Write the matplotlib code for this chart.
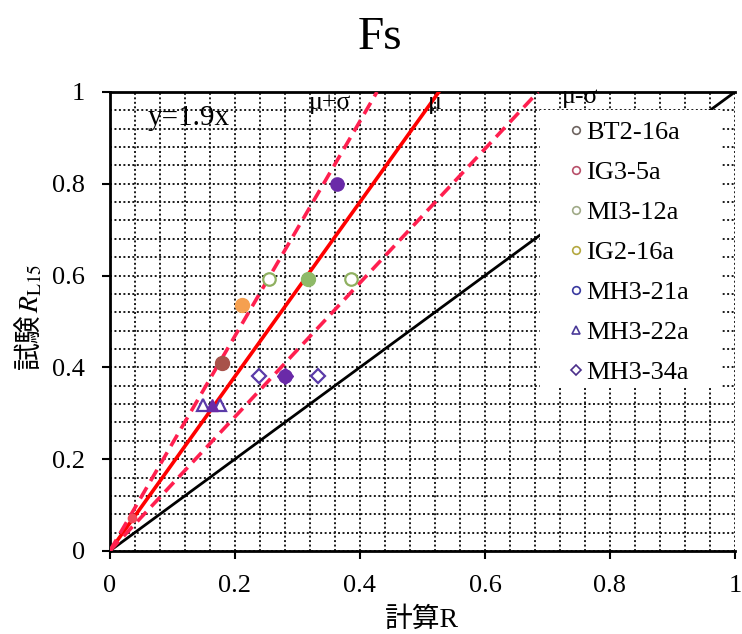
import matplotlib
matplotlib.use("Agg")
import matplotlib.pyplot as plt
from matplotlib.lines import Line2D
from matplotlib.patches import Rectangle
from matplotlib.ticker import MultipleLocator, FuncFormatter

plt.rcParams['font.family'] = ['Liberation Serif', 'Noto Sans CJK JP']
plt.rcParams['mathtext.fontset'] = 'stix'

# test results: calculated R vs. test R_L15
names = ["BT2-16a", "IG3-5a", "MI3-12a", "IG2-16a", "MH3-21a", "MH3-22a", "MH3-34a"]
legend_colors = ["#6e6460", "#b8506a", "#a0aa88", "#b4a840", "#3a3aa0", "#4a3a98", "#4a2e8a"]
legend_markers = ["o", "o", "o", "o", "o", "^", "D"]

# filled markers (mean values)
bt2_x, bt2_y = [0.180], [0.409]
ig3_x, ig3_y = [0.036], [0.072]
mi3_x, mi3_y = [0.317], [0.592]
ig2_x, ig2_y = [0.212], [0.536]
mh21_x, mh21_y = [0.363, 0.281], [0.800, 0.382]
mh22_x, mh22_y = [0.164], [0.317]
mh34_x, mh34_y = [0.281], [0.382]

# hollow markers (range ends)
mi3_rng_x, mi3_rng_y = [0.255, 0.385], [0.592, 0.592]
mh22_rng_x, mh22_rng_y = [0.149, 0.176], [0.317, 0.317]
mh34_rng_x, mh34_rng_y = [0.239, 0.333], [0.382, 0.382]

mu = 1.9
sigma = 0.44

fig = plt.figure(figsize=(7.42, 6.34), dpi=100)
ax = fig.add_axes([0.148, 0.131, 0.8426, 0.724])

ax.set_xlim(0, 1)
ax.set_ylim(0, 1)
ax.xaxis.set_major_locator(MultipleLocator(0.2))
ax.yaxis.set_major_locator(MultipleLocator(0.2))
ax.xaxis.set_minor_locator(MultipleLocator(0.04))
ax.yaxis.set_minor_locator(MultipleLocator(0.04))
fmt = FuncFormatter(lambda v, p: "%g" % round(v, 2))
ax.xaxis.set_major_formatter(fmt)
ax.yaxis.set_major_formatter(fmt)
ax.grid(which="both", color="#1a1a1a", linewidth=1.4, linestyle=(0, (1, 1.3)), zorder=0)
ax.set_axisbelow(True)
ax.tick_params(which="major", direction="out", length=6, width=1.5, labelsize=19)
ax.tick_params(axis="x", which="major", pad=11)
ax.tick_params(axis="y", which="major", pad=12)
ax.tick_params(which="minor", length=0)
for s in ["left", "bottom", "top"]:
    ax.spines[s].set_linewidth(2)
ax.spines["right"].set_visible(False)

# 1:1 line
ax.plot([0, 1], [0, 1], color="black", lw=2, zorder=2)

# mean and mean +/- sigma lines
ax.plot([0, 1 / mu], [0, 1], color="#ff0000", lw=2.6, zorder=3)
ax.plot([0, 1 / (mu + sigma)], [0, 1], color="#ff1f4f", lw=2.6, dashes=(3.6, 2), zorder=3)
ax.plot([0, 1 / (mu - sigma)], [0, 1], color="#ff1f4f", lw=2.6, dashes=(3.6, 2), zorder=3)

ax.plot(mi3_rng_x, mi3_rng_y, ls="none", marker="o", ms=9, mfc="white", mec="#8fb060", mew=1.6, zorder=4)
ax.plot(mh22_rng_x, mh22_rng_y, ls="none", marker="^", ms=9, mfc="white", mec="#5a3aa8", mew=1.6, zorder=4)
ax.plot(mh34_rng_x, mh34_rng_y, ls="none", marker="D", ms=7, mfc="white", mec="#5a3aa8", mew=1.6, zorder=4)

ax.plot(bt2_x, bt2_y, ls="none", marker="o", ms=10, color="#a8524a", zorder=5)
ax.plot(ig3_x, ig3_y, ls="none", marker="o", ms=6, color="#f04a5a", zorder=5)
ax.plot(mi3_x, mi3_y, ls="none", marker="o", ms=10, color="#8fba68", zorder=5)
ax.plot(ig2_x, ig2_y, ls="none", marker="o", ms=10, color="#f5a050", zorder=5)
ax.plot(mh34_x, mh34_y, ls="none", marker="D", ms=8, color="#6a2aa8", zorder=5)
ax.plot(mh21_x, mh21_y, ls="none", marker="o", ms=9.5, color="#6a2aa8", zorder=5)
ax.plot(mh22_x, mh22_y, ls="none", marker="^", ms=9, color="#6a2aa8", zorder=5)

ax.text(0.06, 0.943, "y=1.9x", fontsize=21, ha="left", va="center", zorder=6)
ax.text(0.352, 0.976, "μ+σ", fontsize=18.5, ha="center", va="center", zorder=6)
ax.text(0.52, 0.976, "μ", fontsize=18.5, ha="center", va="center", zorder=6)
ax.text(0.752, 0.99, "μ-σ", fontsize=18.5, ha="center", va="center", zorder=7)

# legend on a white panel
ax.add_patch(Rectangle((0.688, 0.357), 0.291, 0.604, transform=ax.transAxes,
                       facecolor="white", edgecolor="none", zorder=5.5))
handles = [Line2D([], [], ls="none", marker=m, ms=5.5, mfc="white", mec=c, mew=1.2)
           for m, c in zip(legend_markers, legend_colors)]
leg = ax.legend(handles, names, loc="upper left", bbox_to_anchor=(0.738, 0.938),
                fontsize=19, frameon=False, handlelength=0.4,
                handletextpad=0.15, labelspacing=0.63, borderpad=0,
                borderaxespad=0)
leg.set_zorder(6)

ax.text(0.5, -0.150, "計算R", fontsize=20, ha="center", va="center", transform=ax.transAxes)
ax.text(-0.128, 0.518, "試験", fontsize=20, rotation=90, ha="center", va="top",
        transform=ax.transAxes)
ax.text(-0.125, 0.518, "$R_{\\mathrm{L15}}$", fontsize=20, rotation=90, ha="center",
        va="bottom", transform=ax.transAxes)

fig.text(0.512, 0.94, "Fs", fontsize=34, ha="center", va="center")

fig.savefig("out.png", dpi=100)
